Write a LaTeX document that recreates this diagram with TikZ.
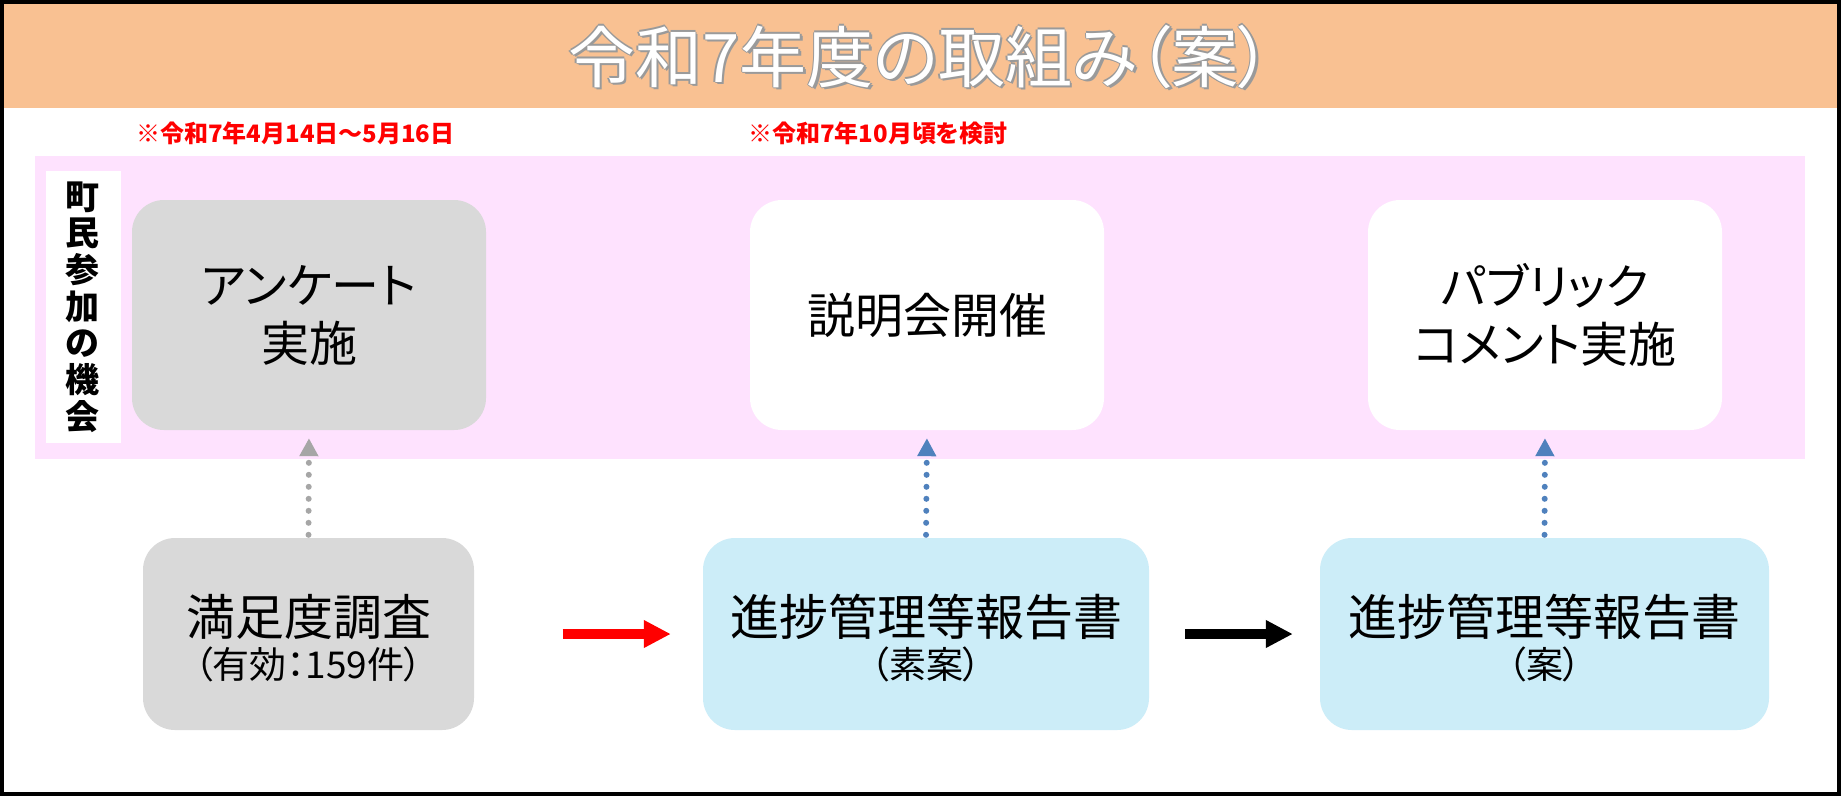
\documentclass[tikz,border=0pt]{standalone}
\usepackage{fontspec}
\newfontfamily\jp[RawFeature=+palt]{Noto Sans CJK JP}
\usetikzlibrary{arrows.meta,calc}
\definecolor{bandorange}{HTML}{F9C192}
\definecolor{bandpink}{HTML}{FEE2FE}
\definecolor{boxgray}{HTML}{D9D9D9}
\definecolor{boxblue}{HTML}{CCEDF8}
\definecolor{arrgray}{HTML}{A6A6A6}
\definecolor{arrblue}{HTML}{4F81BD}
\definecolor{outlinegray}{HTML}{9A9A9A}
\newcommand{\titletxt}{令和7年度の取組み（案）}
\newcommand{\twolines}[2]{\fontsize{49}{53}\selectfont #1\\[6pt]\fontsize{37}{53}\selectfont #2}
\begin{document}
\begin{tikzpicture}[x=1pt,y=-1pt,
  topbox/.style={rounded corners=32pt, minimum width=354pt, minimum height=230pt, inner sep=0pt, align=center, font=\jp\fontsize{48}{58}\selectfont},
  botbox/.style={rounded corners=32pt, minimum height=192pt, inner sep=0pt},
  bottext/.style={inner sep=0pt, align=center, font=\jp},
  titlestyle/.style={font=\jp\fontsize{67}{75}\selectfont, inner sep=0pt},
  note/.style={font=\jp\bfseries\fontsize{24}{28}\selectfont, text=red, anchor=west, inner sep=0pt},
  dotarrow/.style={line width=6pt, dash pattern=on 0pt off 12pt, line cap=round, -{Triangle[length=18pt,width=18pt]}, shorten <=3pt, shorten >=8pt},
  flowarrow/.style={line width=10pt, -{Triangle[length=27pt,width=26pt]}}
]
\useasboundingbox (0,0) rectangle (1841,796);
\fill[white] (0,0) rectangle (1841,796);
% orange title band
\fill[bandorange] (0,0) rectangle (1841,108);
% title with outline
\foreach \dx/\dy [count=\i] in {2.5/2.5,1.5/0,-1.5/0,0/1.5,0/-1.5}{
  \node[titlestyle, text=outlinegray] (title-o\i) at (920+\dx,57+\dy) {\titletxt};
}
\node[titlestyle, text=white] (title) at (920,57) {\titletxt};
% red notes
\node[note] (note1) at (136,133) {※令和7年4月14日～5月16日};
\node[note] (note2) at (748,133) {※令和7年10月頃を検討};
% pink band
\fill[bandpink] (35,156) rectangle (1805,459);
\fill[white] (46,171) rectangle (121,443);
\node[font=\jp\bfseries\fontsize{34}{36.7}\selectfont, align=center, inner sep=0pt] (label) at (82,307) {町\\民\\参\\加\\の\\機\\会};
% top boxes
\node[topbox, fill=boxgray] (t1) at (309,315) {アンケート\\実施};
\node[topbox, fill=white] (t2) at (927,315) {説明会開催};
\node[topbox, fill=white] (t3) at (1545,315) {パブリック\\コメント実施};
% bottom boxes
\node[botbox, fill=boxgray, minimum width=331pt] (b1) at (308.5,634) {};
\node[botbox, fill=boxblue, minimum width=446pt] (b2) at (926,634) {};
\node[botbox, fill=boxblue, minimum width=449pt] (b3) at (1544.5,634) {};
\node[bottext] (b1txt) at ($(b1.center)+(0,4)$) {\twolines{満足度調査}{（有効：159件）}};
\node[bottext] (b2txt) at ($(b2.center)+(0,4)$) {\twolines{進捗管理等報告書}{（素案）}};
\node[bottext] (b3txt) at ($(b3.center)+(0,4)$) {\twolines{進捗管理等報告書}{（案）}};
% vertical dotted arrows
\draw[dotarrow, arrgray] (b1.north) -- (t1.south);
\draw[dotarrow, arrblue] (b2.north) -- (t2.south);
\draw[dotarrow, arrblue] (b3.north) -- (t3.south);
% horizontal arrows
\draw[flowarrow, red, shorten <=88.5pt, shorten >=32pt] (b1.east) -- (b2.west);
\draw[flowarrow, black, shorten <=36pt, shorten >=27pt] (b2.east) -- (b3.west);
% outer frame
\draw[line width=4pt] (2,2) rectangle (1839,794);
\end{tikzpicture}
\end{document}
